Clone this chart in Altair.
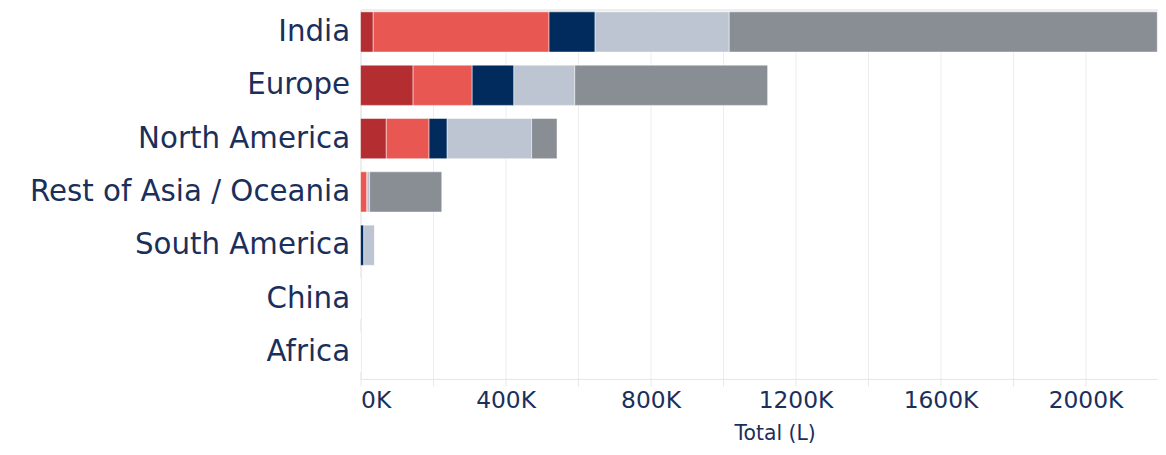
import altair as alt
import pandas as pd

regions = ["India", "Europe", "North America", "Rest of Asia / Oceania",
           "South America", "China", "Africa"]
segments = ["S1", "S2", "S3", "S4", "S5"]
colors = ["#b32d31", "#e85752", "#002b5c", "#bcc5d1", "#898d94"]

# values in litres, per segment, in region order
s1 = [35000, 145000, 71000, 0, 0, 0, 0]
s2 = [485000, 163000, 118000, 18000, 0, 0, 0]
s3 = [127000, 115000, 50000, 0, 9000, 0, 0]
s4 = [370000, 168000, 233000, 7000, 30000, 0, 0]
s5 = [1181000, 532000, 70000, 199000, 0, 0, 0]

series = [s1, s2, s3, s4, s5]
rows = []
for si, (seg, vals) in enumerate(zip(segments, series)):
    for r, v in zip(regions, vals):
        rows.append({"Region": r, "Segment": seg, "Order": si, "Total": v})
df = pd.DataFrame(rows)

navy = "#1b2f5b"
font = "DejaVu Sans"
tick_vals = list(range(0, 2200001, 200000))

chart = alt.Chart(df).mark_bar(stroke="#ffffff", strokeWidth=0.8, strokeOpacity=0.6).encode(
    y=alt.Y("Region:N", sort=regions,
            scale=alt.Scale(paddingInner=0.246, paddingOuter=0.087, align=0.25),
            axis=alt.Axis(title=None, ticks=False, domain=False, labelFontSize=29.5,
                          labelFont=font, labelFontWeight="normal", labelColor=navy,
                          labelPadding=11, labelLimit=400)),
    x=alt.X("Total:Q", stack="zero",
            scale=alt.Scale(domain=[0, 2200000], nice=False),
            axis=alt.Axis(title="Total (L)", values=tick_vals,
                          labelExpr="datum.value % 400000 === 0 ? format(datum.value/1000, 'd') + 'K' : ''",
                          labelFlush=True, labelOverlap=False,
                          labelFont=font, labelFontSize=23.5, labelColor=navy,
                          labelBaseline="alphabetic", labelPadding=22,
                          tickSize=7, tickColor="#e8e8e8",
                          domainColor="#e8e8e8", gridColor="#ededed",
                          titleFont=font, titleFontSize=20.5, titleFontWeight="normal",
                          titleColor=navy, titleX=417, titleY=61,
                          titleAlign="center", titleBaseline="alphabetic")),
    color=alt.Color("Segment:N", scale=alt.Scale(domain=segments, range=colors), legend=None),
    order=alt.Order("Order:Q"),
).properties(
    width=803, height=372,
    autosize=alt.AutoSizeParams(type="none"),
    padding={"left": 355, "top": 0, "right": 0, "bottom": 70},
).configure_view(stroke=None).configure(background="white")

chart.save("out.html", embed_options={"renderer": "svg", "actions": False})
